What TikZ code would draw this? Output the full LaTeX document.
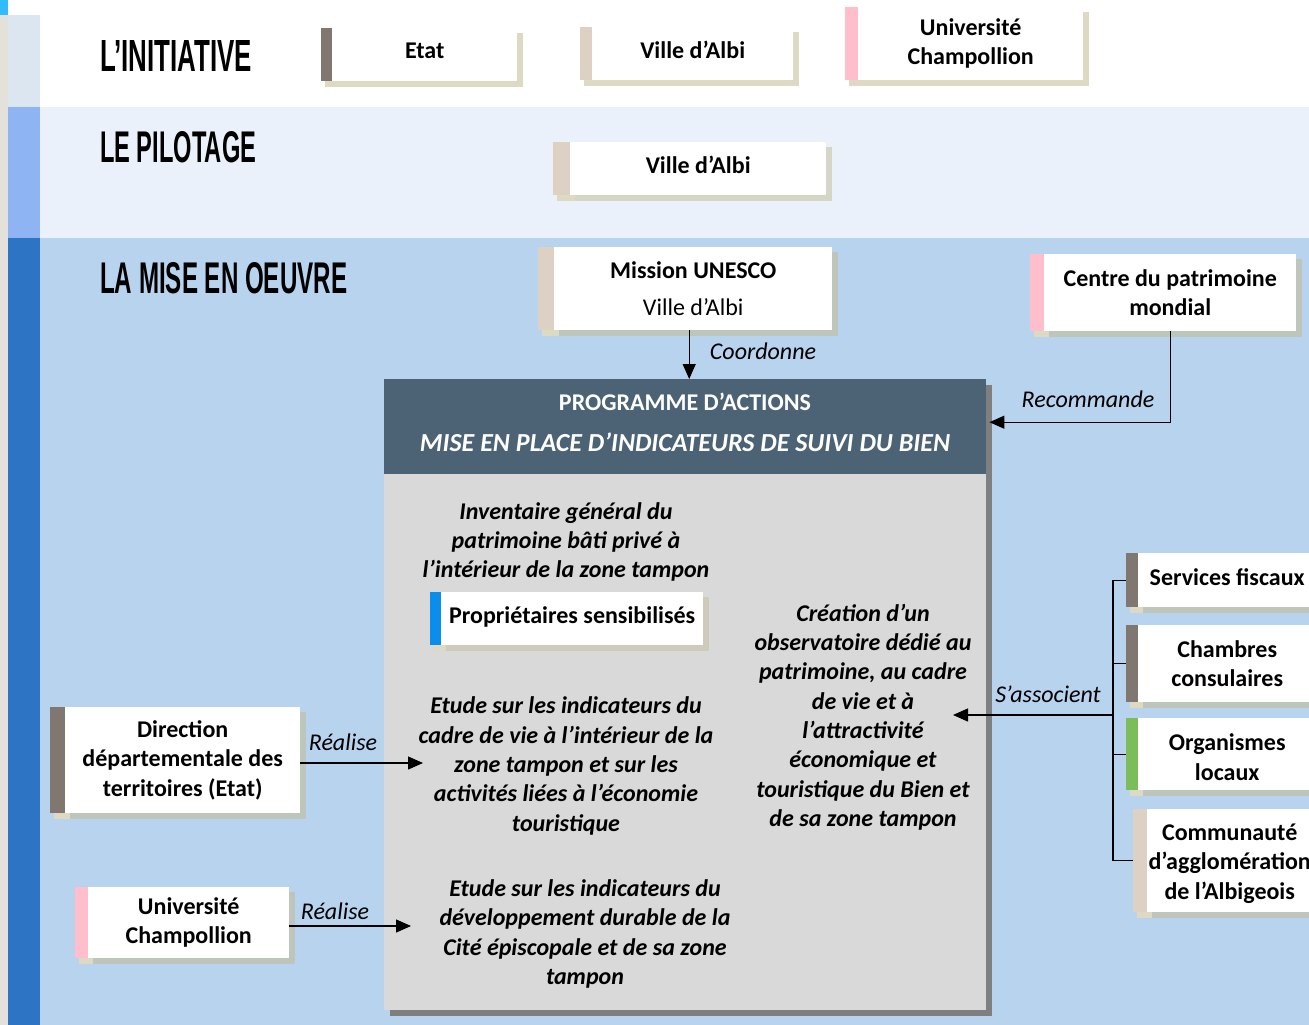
\documentclass[tikz,border=0pt]{standalone}
\usepackage{fontspec}
\usepackage{graphicx}
\setmainfont{Carlito}
\newfontfamily\headfont{Liberation Sans}
\usetikzlibrary{arrows.meta}

\definecolor{edgegray}{HTML}{E4E1DA}
\definecolor{edgecyan}{HTML}{33BBFF}
\definecolor{stripeA}{HTML}{DCE6F1}
\definecolor{stripeB}{HTML}{8EB4F3}
\definecolor{stripeC}{HTML}{2E74C5}
\definecolor{bandB}{HTML}{EAF1FA}
\definecolor{bandC}{HTML}{B8D3EE}
\definecolor{hdrblue}{HTML}{4B6375}
\definecolor{bodygray}{HTML}{D9D9D9}
\definecolor{progshadow}{HTML}{7F7F7F}
\definecolor{shbeige}{HTML}{DDD9C3}
\definecolor{shonB}{HTML}{D5D6C6}
\definecolor{shonC}{HTML}{BEC6BC}
\definecolor{shongray}{HTML}{CFCBBA}
\definecolor{bargray}{HTML}{7F7770}
\definecolor{barbeige}{HTML}{DDD1C3}
\definecolor{barpink}{HTML}{FFBECB}
\definecolor{barblue}{HTML}{0A8DEB}
\definecolor{bargreen}{HTML}{7ABD5A}

\tikzset{
  cardbox/.style={fill=white, inner sep=0pt},
  cardtext/.style={inner sep=0pt, align=center, font=\fontsize{24}{29.3}\selectfont\bfseries},
  cardshadow/.style={fill=shbeige},
  heading/.style={anchor=base west, inner sep=0pt, font=\headfont\bfseries},
  bodytext/.style={inner sep=0pt, align=center, font=\fontsize{24}{29.3}\selectfont\bfseries\itshape},
  lbl/.style={inner sep=0pt, font=\fontsize{24}{29.3}\selectfont\itshape},
  arr/.style={line width=1.3pt, -{Triangle[length=15pt,width=13pt]}},
  ln/.style={line width=1.3pt},
}

% [#1 text options], #2 name, #3 x bar left, #4 x white left, #5 x white right, #6 y top, #7 y bottom, #8 bar colour, #9 text
\newcommand\card[9][]{%
  \fill[cardshadow] (#4+5,#6+5) rectangle (#5+6,#7+6);
  \fill[shbeige] (#3+4,#6+5) rectangle (#4+5,#7+6);
  \node[cardbox, minimum width={#5-#4}, minimum height={#7-#6}, anchor=north west] (#2) at (#4,#6) {};
  \node[fill=#8, inner sep=0pt, minimum width={#4-#3}, minimum height={#7-#6}, anchor=north east] (#2bar) at (#2.north west) {};
  \node[cardtext, #1] (#2txt) at (#2.center) {#9};
}

\begin{document}
\begin{tikzpicture}[x=1pt,y=-1pt]
\useasboundingbox (0,0) rectangle (1309,1025);
\fill[white] (0,0) rectangle (1309,1025);

% bands
\fill[bandB] (40,107) rectangle (1309,238);
\fill[bandC] (40,238) rectangle (1309,1025);
\fill[stripeA] (8,15) rectangle (40,107);
\fill[stripeB] (8,107) rectangle (40,238);
\fill[stripeC] (8,238) rectangle (40,1025);
\fill[edgegray] (0,15) rectangle (8,1025);
\fill[edgecyan] (0,0) rectangle (8,15);

% headings
\node[heading] (h1) at (100,72) {\resizebox{152pt}{31pt}{L’INITIATIVE}};
\node[heading] (h2) at (100,162) {\resizebox{156pt}{31pt}{LE PILOTAGE}};
\node[heading] (h3) at (100,293) {\resizebox{247pt}{31pt}{LA MISE EN OEUVRE}};

% initiative
\tikzset{cardshadow/.style={fill=shbeige}}
\card[yshift=3.5pt]{etat}{321}{332}{517}{28}{81}{bargray}{Etat}
\card[yshift=3.5pt]{albiA}{580}{592}{793}{27}{80}{barbeige}{Ville d’Albi}
\card{univA}{845}{858}{1083}{7}{80}{barpink}{Université\\Champollion}

% pilotage
\tikzset{cardshadow/.style={fill=shonB}}
\card[yshift=3.5pt]{albiB}{553}{570}{826}{142}{195}{barbeige}{Ville d’Albi}

% mise en oeuvre
\tikzset{cardshadow/.style={fill=shonC}}
\card{mission}{538}{554}{832}{247}{330}{barbeige}{Mission UNESCO\\[8pt]\mdseries Ville d’Albi}
\card{centre}{1030}{1044}{1296}{254}{331}{barpink}{Centre du patrimoine\\mondial}

% programme box
\fill[progshadow] (390,385) rectangle (992,1016);
\node[fill=hdrblue, inner sep=0pt, minimum width=602, minimum height=95, anchor=north west] (hdr) at (384,379) {};
\node[fill=bodygray, inner sep=0pt, minimum width=602, minimum height=536, anchor=north west] (body) at (384,474) {};
\node[inner sep=0pt, text=white, font=\fontsize{24}{28}\selectfont\bfseries] (hdrA) at (685,402) {PROGRAMME D’ACTIONS};
\node[inner sep=0pt, text=white, font=\fontsize{26}{30}\selectfont\bfseries\itshape] (hdrB) at (685,442) {MISE EN PLACE D’INDICATEURS DE SUIVI DU BIEN};

\node[bodytext] (inv) at (566,542) {Inventaire général du\\patrimoine bâti privé à\\l’intérieur de la zone tampon};
\tikzset{cardshadow/.style={fill=shongray}}
\card[yshift=2pt]{prop}{430}{441}{703}{592}{645}{barblue}{Propriétaires sensibilisés}
\node[bodytext] (etude1) at (566,766) {Etude sur les indicateurs du\\cadre de vie à l’intérieur de la\\zone tampon et sur les\\activités liées à l’économie\\touristique};
\node[bodytext] (etude2) at (585,934) {Etude sur les indicateurs du\\développement durable de la\\Cité épiscopale et de sa zone\\tampon};
\node[bodytext] (obs) at (863,717) {Création d’un\\observatoire dédié au\\patrimoine, au cadre\\de vie et à\\l’attractivité\\économique et\\touristique du Bien et\\de sa zone tampon};

% left actors
\tikzset{cardshadow/.style={fill=shonC}}
\card{ddt}{50}{65}{300}{707}{813}{bargray}{Direction\\départementale des\\territoires (Etat)}
\card{univB}{75}{88}{289}{887}{958}{barpink}{Université\\Champollion}

% right partners
\card[yshift=3pt]{sf}{1126}{1138}{1316}{553}{607}{bargray}{Services fiscaux}
\card{cc}{1126}{1138}{1316}{625}{702}{bargray}{Chambres\\consulaires}
\card[yshift=-3pt]{ol}{1126}{1138}{1316}{718}{790}{bargreen}{Organismes\\locaux}
\card[yshift=-3pt]{ca}{1133}{1147}{1312}{809}{912}{barbeige}{Communauté\\d’agglomération\\de l’Albigeois}

% connectors
\draw[arr] ([xshift=-4pt]mission.south) -- ([xshift=-4pt]mission.south |- hdr.north);
\node[lbl] (lcoord) at (763,351) {Coordonne};

\draw[arr] (centre.south) |- ([yshift=4.5pt,xshift=3pt]hdr.east);
\node[lbl] (lrec) at (1088,399) {Recommande};

\coordinate (t1) at (423,763);
\draw[arr] (ddt.east |- t1) -- (t1);
\node[lbl] (lr1) at (343,742) {Réalise};

\coordinate (t2) at (411,926);
\draw[arr] (univB.east |- t2) -- (t2);
\node[lbl] (lr2) at (335,911) {Réalise};

\coordinate (j) at (1113,715);
\coordinate (t3) at (953,715);
\draw[ln] (sfbar.west) -| (j);
\draw[ln] (ccbar.west) -| (j);
\draw[ln] (olbar.west) -| (j);
\draw[ln] (cabar.west) -| (j);
\draw[arr] (j) -- (t3);
\node[lbl] (lass) at (1048,694) {S’associent};
\end{tikzpicture}
\end{document}
